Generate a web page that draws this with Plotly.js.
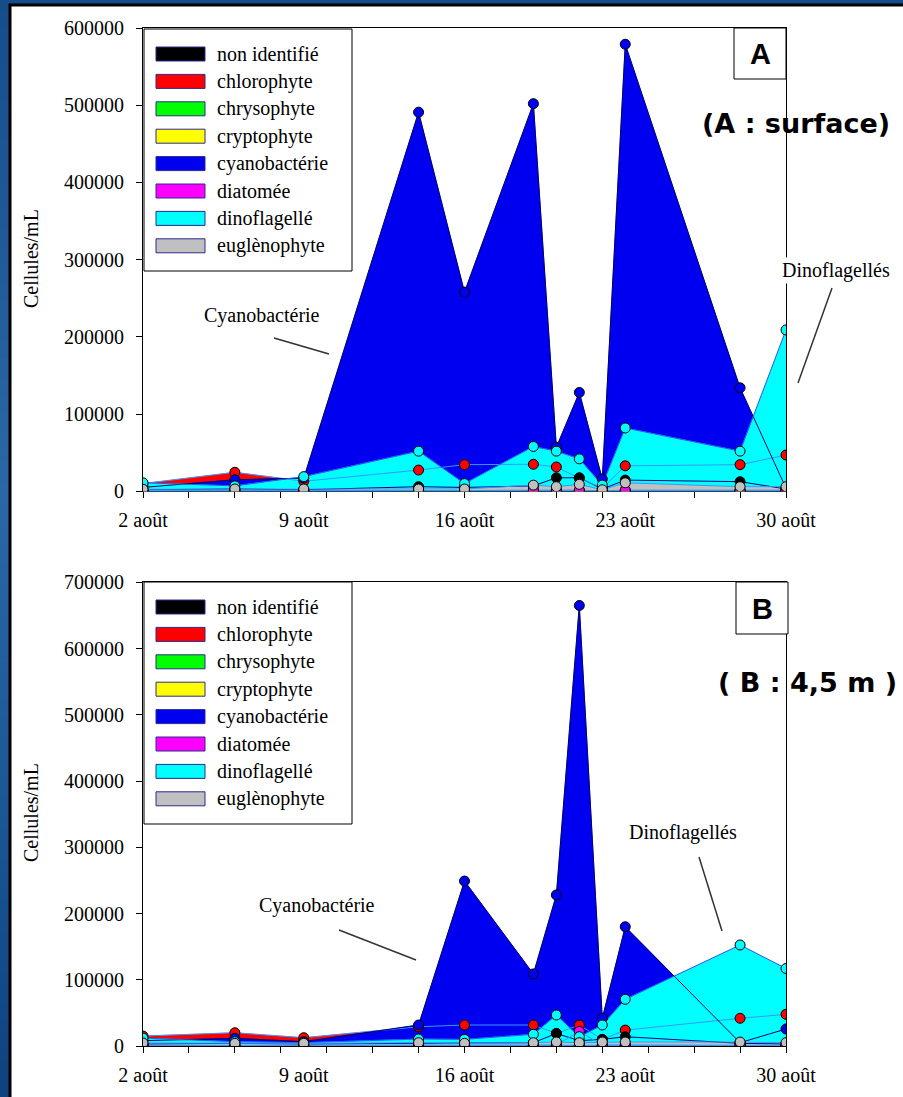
<!DOCTYPE html>
<html>
<head>
<meta charset="utf-8">
<script src="https://cdn.plot.ly/plotly-3.0.1.min.js"></script>
<style>
html,body{margin:0;padding:0;}
body{width:903px;height:1097px;overflow:hidden;background:linear-gradient(180deg,#174c8a 0%,#2b67a6 45%,#1a5594 75%,#0f427e 100%);}
#chart{width:903px;height:1097px;}
</style>
</head>
<body>
<div id="chart"></div>
<script>
// ---- data ----
const days = [2, 6, 9, 14, 16, 19, 20, 21, 22, 23, 28, 30];
const tickDays = [2, 9, 16, 23, 30];
const tickLabels = ['2 août', '9 août', '16 août', '23 août', '30 août'];
const seriesNames = ['non identifié', 'chlorophyte', 'chrysophyte', 'cryptophyte', 'cyanobactérie', 'diatomée', 'dinoflagellé', 'euglènophyte'];

// Panel A : surface
const nonIdA  = [2000, 3000, 2000, 6000, 5000, 7000, 17500, 17500, 3000, 14500, 12500, 3000];
const chloroA = [10000, 24600, 13000, 27500, 34500, 35000, 31500, 17000, 4000, 33000, 34500, 47000];
const chrysoA = [500, 500, 500, 500, 500, 500, 500, 500, 500, 500, 500, 500];
const cryptoA = [1000, 1000, 1000, 1000, 1000, 1000, 1000, 1000, 1000, 1000, 1000, 1000];
const cyanoA  = [5000, 15000, 17000, 491000, 258000, 502000, 57000, 128000, 16000, 579000, 134000, 4000];
const diatA   = [500, 500, 500, 1000, 1000, 1500, 1500, 1500, 500, 1500, 1500, 1500];
const dinoA   = [11000, 7000, 19000, 52000, 10000, 58000, 52000, 42000, 8000, 82000, 52000, 209000];
const eugA    = [2600, 3000, 3000, 3000, 3000, 8000, 6000, 9000, 2000, 11000, 6000, 6000];

// Panel B : 4,5 m
const nonIdB  = [3000, 4000, 3000, 4000, 4000, 5000, 19000, 8000, 10000, 14000, 4000, 3000];
const chloroB = [15000, 20000, 12500, 29000, 31700, 31700, 19000, 31700, 10000, 24000, 41800, 47800];
const chrysoB = [500, 500, 500, 500, 500, 500, 500, 500, 500, 500, 500, 500];
const cryptoB = [1000, 1000, 1000, 1000, 1000, 1000, 1000, 1000, 1000, 1000, 1000, 1000];
const cyanoB  = [8000, 11600, 6500, 31700, 249000, 108800, 228000, 665000, 41800, 180000, 5000, 25700];
const diatB   = [500, 500, 500, 500, 500, 1000, 1500, 22000, 1500, 1500, 1500, 500];
const dinoB   = [12000, 6500, 5000, 10500, 10000, 17700, 46800, 14000, 31700, 70500, 152500, 117000];
const eugB    = [4500, 4000, 4000, 5000, 4000, 5000, 6000, 5000, 6000, 6000, 6000, 5000];

const seriesA = [nonIdA, chloroA, chrysoA, cryptoA, cyanoA, diatA, dinoA, eugA];
const seriesB = [nonIdB, chloroB, chrysoB, cryptoB, cyanoB, diatB, dinoB, eugB];

// ---- styles ----
const fillColors = ['#000000', '#ff0000', '#00ff00', '#ffff00', '#0000f0', '#ff00ff', '#00ffff', '#c0c0c0'];
const edgeColors = ['#000080', '#3399ff', '#3399ff', '#3399ff', '#000066', '#3399ff', '#3355ee', '#3399ff'];
const markerOrder = [1, 2, 3, 4, 0, 5, 6, 7];

const W = 903, H = 1097;
const px = x => x / W;
const py = y => 1 - y / H;
const serif = 'Liberation Serif, Times New Roman, serif';

function buildTraces(series, xa, ya) {
  const tr = [];
  series.forEach((vals, i) => {
    tr.push({x: days, y: vals, xaxis: xa, yaxis: ya, type: 'scatter', mode: 'lines',
      fill: 'tozeroy', fillcolor: fillColors[i], line: {width: 0.5, color: fillColors[i]},
      hoverinfo: 'skip', showlegend: false});
  });
  series.forEach((vals, i) => {
    tr.push({x: days, y: vals, xaxis: xa, yaxis: ya, type: 'scatter', mode: 'lines',
      line: {width: 1, color: edgeColors[i]}, hoverinfo: 'skip', showlegend: false});
  });
  markerOrder.forEach(i => {
    tr.push({x: days, y: series[i], xaxis: xa, yaxis: ya, type: 'scatter', mode: 'markers',
      marker: {size: 10, color: fillColors[i], line: {width: 1, color: '#000000'}},
      hoverinfo: 'skip', showlegend: false});
  });
  return tr;
}

const traces = buildTraces(seriesA, 'x', 'y').concat(buildTraces(seriesB, 'x2', 'y2'));

function xAxis(anchor) {
  return {domain: [px(143), px(786)], range: [2, 30], anchor: anchor,
    tickmode: 'array', tickvals: tickDays, ticktext: tickLabels, ticks: '',
    minor: {tick0: 2, dtick: 2, ticks: 'outside', ticklen: 6, tickcolor: '#000', tickwidth: 1, showgrid: false},
    showline: true, mirror: true, linecolor: '#000', linewidth: 1, layer: 'below traces',
    showgrid: false, zeroline: false, ticklabelstandoff: 11,
    tickfont: {family: serif, size: 20, color: '#000'}, fixedrange: true};
}
function yAxis(y0, y1, maxV, anchor) {
  return {domain: [py(y0), py(y1)], range: [0, maxV], dtick: 100000, tick0: 0, anchor: anchor,
    tickformat: 'd', ticks: 'outside', ticklen: 6, tickcolor: '#000',
    showline: true, mirror: true, linecolor: '#000', linewidth: 1,
    showgrid: false, zeroline: false, ticklabelstandoff: 8,
    tickfont: {family: serif, size: 20, color: '#000'}, fixedrange: true};
}

const shapes = [];
const annotations = [];

// white slide panel
shapes.push({type: 'rect', xref: 'paper', yref: 'paper', x0: px(10), x1: 1.05, y0: -0.05, y1: py(5),
  fillcolor: '#ffffff', line: {color: '#000000', width: 3}, layer: 'below'});

function legend(top) {
  shapes.push({type: 'rect', xref: 'paper', yref: 'paper', x0: px(144), x1: px(352), y0: py(top + 242), y1: py(top),
    fillcolor: '#ffffff', line: {color: '#000', width: 1}, layer: 'above'});
  seriesNames.forEach((name, i) => {
    const cy = top + 25 + 27.4 * i;
    shapes.push({type: 'rect', xref: 'paper', yref: 'paper', x0: px(156), x1: px(205), y0: py(cy + 7), y1: py(cy - 7),
      fillcolor: fillColors[i], line: {color: '#2b2b8f', width: 1}, layer: 'above'});
    annotations.push({xref: 'paper', yref: 'paper', x: px(215), y: py(cy), xanchor: 'left', yanchor: 'middle',
      text: name, showarrow: false, font: {family: serif, size: 20, color: '#000'}});
  });
}
legend(29);
legend(582);

function callout(x0, y0, x1, y1) {
  shapes.push({type: 'line', xref: 'paper', yref: 'paper', x0: px(x0), y0: py(y0), x1: px(x1), y1: py(y1),
    line: {color: '#333333', width: 1.5}, layer: 'above'});
}
function label(text, x, y, opts) {
  annotations.push(Object.assign({xref: 'paper', yref: 'paper', x: px(x), y: py(y), xanchor: 'center', yanchor: 'middle',
    text: text, showarrow: false, font: {family: serif, size: 20, color: '#000'}}, opts || {}));
}
function boxLabel(text, x0, y0, x1, y1) {
  shapes.push({type: 'rect', xref: 'paper', yref: 'paper', x0: px(x0), x1: px(x1), y0: py(y1), y1: py(y0),
    fillcolor: '#ffffff', line: {color: '#000', width: 1}, layer: 'above'});
  label(text, (x0 + x1) / 2, (y0 + y1) / 2 + 1, {font: {family: 'Liberation Sans, Arial, sans-serif', size: 29, color: '#000', weight: 'bold'}});
}

// Panel A decorations
callout(274, 338, 329, 354);
callout(832, 288, 798, 383);
label('Cyanobactérie', 262, 315, {bgcolor: '#ffffff'});
label('Dinoflagellés', 836, 270, {bgcolor: '#ffffff'});
boxLabel('A', 734, 28, 786, 79);
label('<b>(A : surface)</b>', 796, 124, {font: {family: 'DejaVu Sans, Verdana, sans-serif', size: 27, color: '#000'}});
label('Cellules/mL', 31, 259, {textangle: -90});

// Panel B decorations
callout(339, 930, 416, 960);
callout(699, 857, 722, 931);
label('Cyanobactérie', 317, 905, {bgcolor: '#ffffff'});
label('Dinoflagellés', 683, 832, {bgcolor: '#ffffff'});
boxLabel('B', 736, 582, 788, 634);
label('<b>( B : 4,5 m )</b>', 807, 682, {font: {family: 'DejaVu Sans, Verdana, sans-serif', size: 27, color: '#000'}});
label('Cellules/mL', 31, 813, {textangle: -90});

const layout = {
  width: W, height: H, margin: {l: 0, r: 0, t: 0, b: 0},
  paper_bgcolor: 'rgba(0,0,0,0)', plot_bgcolor: '#ffffff',
  showlegend: false, hovermode: false,
  xaxis: xAxis('y'),
  yaxis: yAxis(491.3, 28, 600000, 'x'),
  xaxis2: xAxis('y2'),
  yaxis2: yAxis(1046, 582.3, 700000, 'x2'),
  shapes: shapes, annotations: annotations
};

Plotly.newPlot('chart', traces, layout, {staticPlot: true, displayModeBar: false});
</script>
</body>
</html>
